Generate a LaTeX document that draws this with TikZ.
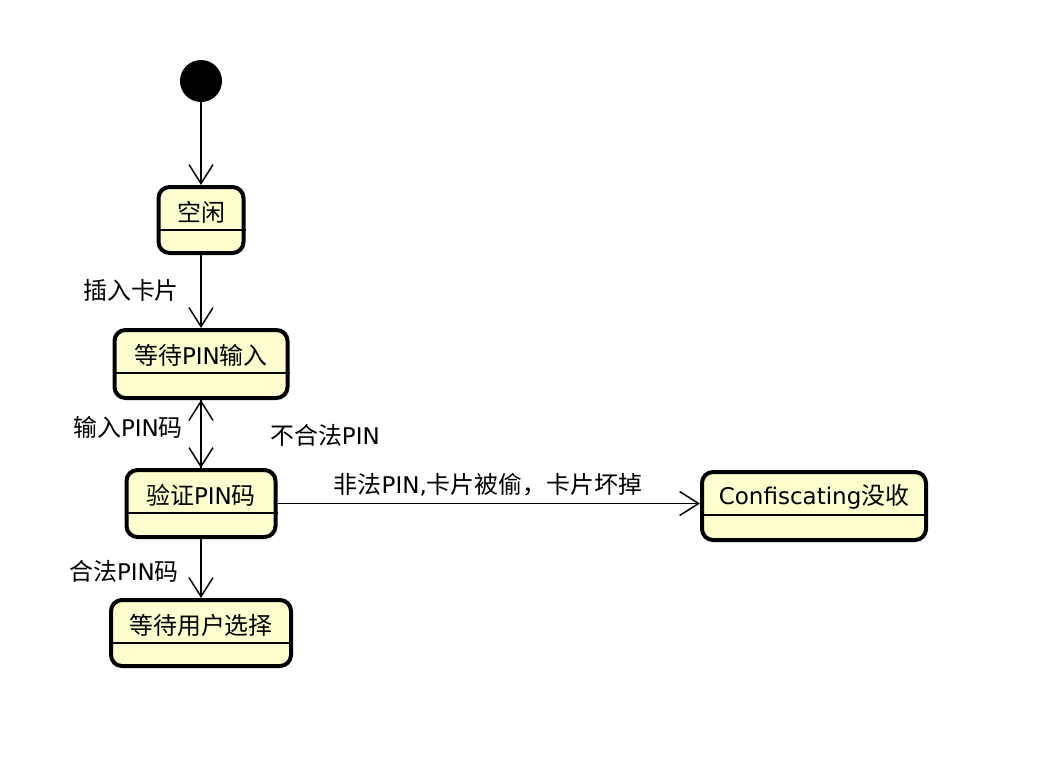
\documentclass[tikz,border=0pt]{standalone}
\usepackage{fontspec}
\setmainfont{DejaVu Sans}
\newfontfamily\cjk{Noto Sans CJK SC}[Scale=1.04]
\usetikzlibrary{arrows.meta}
\definecolor{umlfill}{HTML}{FEFECE}
\begin{document}
\begin{tikzpicture}[x=1pt,y=-1pt,
  statebox/.style={draw=black, line width=4pt, fill=umlfill, rounded corners=11pt, inner sep=0pt},
  title/.style={font=\fontsize{23}{27}\selectfont, inner sep=0pt},
  lbl/.style={font=\fontsize{23}{27}\selectfont, inner sep=0pt},
  conn/.style={line width=1.5pt, -{Straight Barb[length=19pt,width=24pt,line width=1.5pt]}},
  divider/.style={line width=1.5pt}]
\useasboundingbox[fill=white] (0,0) rectangle (1048,774);

% initial state
\node[circle, fill=black, minimum size=42pt, inner sep=0pt] (init) at (201,81) {};

% states
\node[statebox, minimum width=85pt, minimum height=66pt] (idle) at (201,220) {};
\node[statebox, minimum width=173pt, minimum height=68pt] (wait) at (201,364) {};
\node[statebox, minimum width=149pt, minimum height=67pt] (verify) at (201,503.5) {};
\node[statebox, minimum width=224pt, minimum height=68pt] (conf) at (814,506) {};
\node[statebox, minimum width=180pt, minimum height=66pt] (choose) at (201,633) {};

% dividers
\foreach \s in {idle,wait,verify,conf,choose}{
  \draw[divider] ([yshift=-45pt]\s.north west) -- ([yshift=-45pt]\s.north east);
}

% titles
\node[title] (tidle) at ([yshift=-27pt]idle.north) {{\cjk 空闲}};
\node[title] (twait) at ([yshift=-27pt]wait.north) {{\cjk 等待}PIN{\cjk 输入}};
\node[title] (tverify) at ([yshift=-27pt]verify.north) {{\cjk 验证}PIN{\cjk 码}};
\node[title] (tconf) at ([yshift=-27pt]conf.north) {Confiscating{\cjk 没收}};
\node[title] (tchoose) at ([yshift=-27pt]choose.north) {{\cjk 等待用户选择}};

% transitions
\draw[conn] (init) -- (idle);
\draw[conn] (idle) -- (wait);
\draw[conn] (wait) -- (verify);
\draw[conn] (verify) -- (wait);
\draw[conn] (verify.east) -- (verify.east -| conf.west);
\draw[conn] (verify) -- (choose);

% labels
\node[lbl] (l1) at (131,290) {{\cjk 插入卡片}};
\node[lbl] (l2) at (128,427) {{\cjk 输入}PIN{\cjk 码}};
\node[lbl] (l3) at (325,435) {{\cjk 不合法}PIN};
\node[lbl] (l4) at (488,485) {{\cjk 非法}PIN,{\cjk 卡片被偷，卡片坏掉}};
\node[lbl] (l5) at (124,571) {{\cjk 合法}PIN{\cjk 码}};
\end{tikzpicture}
\end{document}
